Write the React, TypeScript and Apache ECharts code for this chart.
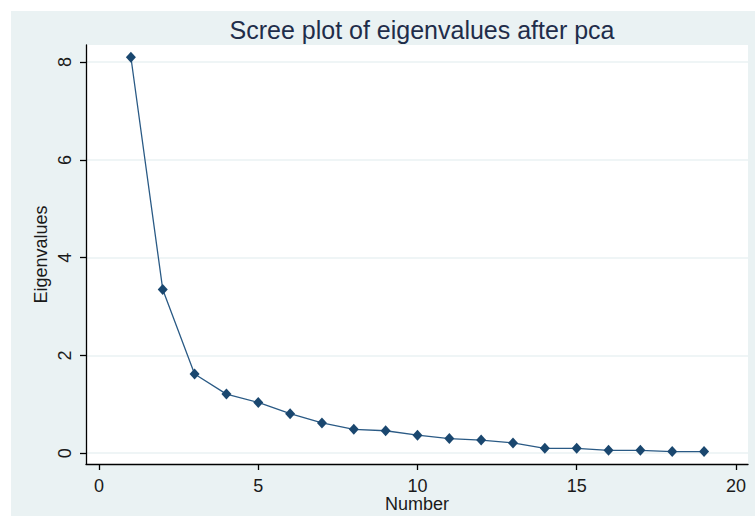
import React, { useEffect, useRef } from "react";
import * as echarts from "echarts";

const components: number[] = [1, 2, 3, 4, 5, 6, 7, 8, 9, 10, 11, 12, 13, 14, 15, 16, 17, 18, 19];
const eigenvalues: number[] = [8.1, 3.35, 1.62, 1.21, 1.04, 0.81, 0.62, 0.49, 0.46, 0.37, 0.3, 0.27, 0.21, 0.1, 0.1, 0.06, 0.06, 0.035, 0.035];
const xTicks: number[] = [0, 5, 10, 15, 20];
const yTicks: number[] = [0, 2, 4, 6, 8];

const FONT = "'Liberation Sans', Arial, sans-serif";
const NAVY = "#1a476f";

export default function App() {
  const ref = useRef<HTMLDivElement>(null);
  useEffect(() => {
    document.body.style.margin = "0";
    const chart = echarts.init(ref.current!, null, { renderer: "svg" });
    const data = components.map((c, i) => [c, eigenvalues[i]]);
    chart.setOption({
      animation: false,
      backgroundColor: "#ffffff",
      textStyle: { fontFamily: FONT },
      graphic: [
        {
          type: "rect",
          z: -10,
          silent: true,
          shape: { x: 11, y: 11, width: 744, height: 505 },
          style: { fill: "#eaf2f3" },
        },
      ],
      title: {
        text: "Scree plot of eigenvalues after pca",
        left: 417,
        top: 12,
        textAlign: "center",
        textStyle: { fontFamily: FONT, fontSize: 25, fontWeight: "normal", color: "#1f2d4a" },
      },
      grid: {
        left: 86,
        top: 45,
        right: 7,
        bottom: 52,
        show: true,
        backgroundColor: "#ffffff",
        borderWidth: 0,
        containLabel: false,
        outerBoundsMode: "none",
      },
      xAxis: {
        type: "value",
        min: -0.41,
        max: 20.38,
        name: "Number",
        nameLocation: "middle",
        nameGap: 32,
        nameMoveOverlap: false,
        nameTextStyle: { fontFamily: FONT, fontSize: 18, lineHeight: 15, color: "#1a1a1a" },
        axisLine: { onZero: false, lineStyle: { color: "#000", width: 1.3 } },
        axisTick: { show: true, length: 6, customValues: xTicks, lineStyle: { color: "#000", width: 1.3 } },
        axisLabel: { customValues: xTicks, margin: 14, lineHeight: 15, fontFamily: FONT, fontSize: 18, color: "#1a1a1a" },
        splitLine: { show: false },
      },
      yAxis: {
        type: "value",
        min: -0.22,
        max: 8.35,
        name: "Eigenvalues",
        nameLocation: "middle",
        nameGap: 36,
        nameMoveOverlap: false,
        nameTextStyle: { fontFamily: FONT, fontSize: 18, color: "#1a1a1a" },
        axisLine: { show: true, onZero: false, lineStyle: { color: "#000", width: 1.3 } },
        axisTick: { show: true, length: 6, customValues: yTicks, lineStyle: { color: "#000", width: 1.3 } },
        axisLabel: { customValues: yTicks, rotate: 90, margin: 12, fontFamily: FONT, fontSize: 18, color: "#1a1a1a" },
        splitLine: { show: true, lineStyle: { color: "#eaf2f3", width: 1.5 } },
      },
      series: [
        {
          type: "line",
          data,
          symbol: "diamond",
          symbolSize: [10, 11],
          itemStyle: { color: NAVY },
          lineStyle: { color: "#2a5a85", width: 1.3 },
        },
      ],
    });
    return () => chart.dispose();
  }, []);
  return <div ref={ref} style={{ width: 755, height: 516 }} />;
}
